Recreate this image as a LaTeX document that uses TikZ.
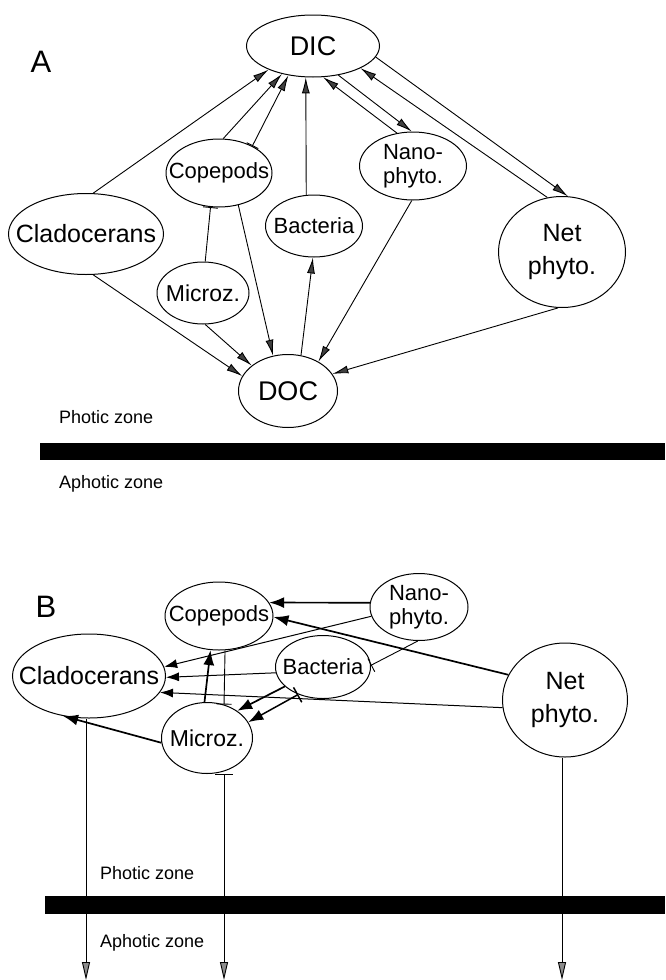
\documentclass[tikz,border=0pt]{standalone}
\usepackage{fontspec}
\setmainfont{Liberation Sans}
\usetikzlibrary{arrows.meta,shapes.geometric}

\def\poolFont{\fontsize{27}{29}\selectfont}
\def\bigFont{\fontsize{25}{33}\selectfont}
\def\midFont{\fontsize{23}{25}\selectfont}
\def\smallFont{\fontsize{22}{24}\selectfont}
\def\zoneFont{\fontsize{18}{20}\selectfont}
\def\panelFont{\fontsize{31}{33}\selectfont}

\tikzset{
  pool/.style={draw, ellipse, inner sep=0pt, line width=1pt},
  zone/.style={anchor=west, inner sep=0pt, font=\zoneFont},
  flow/.style={-{Latex[length=16pt,width=8pt,fill=black!75]}, line width=0.9pt},
  barflow/.style={{Bar[width=13pt]}-{Latex[length=16pt,width=8pt,fill=black!75]}, line width=0.9pt},
  stop/.style={-{Bar[width=15pt]}, line width=0.9pt},
  feed/.style={-{Latex[length=15pt,width=11pt]}, line width=1.7pt},
  barfeed/.style={{Bar[width=17pt]}-{Latex[length=15pt,width=11pt]}, line width=1.5pt},
  weak/.style={-{Latex[length=13pt,width=9pt]}, line width=1pt},
  sink/.style={-{Triangle[length=18pt,width=8pt,fill=black!45]}, line width=0.9pt},
  barsink/.style={{Bar[width=18pt]}-{Triangle[length=18pt,width=8pt,fill=black!45]}, line width=0.9pt}
}

\begin{document}
\begin{tikzpicture}[x=1pt,y=-1pt]
\useasboundingbox (0,0) rectangle (665,980);

%%% panel A
\node[font=\panelFont] (labA) at (41,62) {A};

\node[pool, minimum width=133pt, minimum height=62pt, font=\poolFont] (dicA) at (313,46) {DIC};
\node[pool, minimum width=106pt, minimum height=68pt, font=\smallFont] (copA) at (219,173) {\makebox[0pt]{Copepods}};
\node[pool, minimum width=155pt, minimum height=81pt, font=\bigFont] (claA) at (86,234) {\makebox[0pt]{Cladocerans}};
\node[pool, minimum width=97pt, minimum height=62pt, font=\smallFont] (bacA) at (314,226) {\makebox[0pt]{Bacteria}};
\node[pool, minimum width=107pt, minimum height=68pt, font=\smallFont, align=center] (nanA) at (413,166) {Nano-\\phyto.};
\node[pool, minimum width=127pt, minimum height=111pt, font=\bigFont, align=center] (netA) at (562,252) {Net\\phyto.};
\node[pool, minimum width=92pt, minimum height=62pt, font=\midFont] (micA) at (203,293) {\makebox[0pt]{Microz.}};
\node[pool, minimum width=99pt, minimum height=73pt, font=\poolFont] (docA) at (288,391) {DOC};

% draw the fluxes to and from DIC
\draw[flow] (claA.80) -- (dicA.208);
\draw[flow] (copA.83) -- (dicA.222);
\draw[barflow] (copA.39) -- (dicA.230);
\draw[flow] (bacA.104) -- (dicA.257);
\draw[flow] (nanA.116) -- (dicA.288);
\draw[flow] (dicA.311) -- (nanA.92);
\draw[flow] (netA.105) -- (dicA.335);
\draw[flow] (dicA.350) -- (netA.84);
\draw[stop] (micA.86) -- (copA.256);

% draw the fluxes to and from DOC
\draw[flow] (copA.301) -- (docA.113);
\draw[flow] (claA.280) -- (docA.162);
\draw[flow] (micA.274) -- (docA.145);
\draw[flow] (docA.70) -- (bacA.268);
\draw[flow] (nanA.268) -- (docA.44);
\draw[flow] (netA.266) -- (docA.21);

\fill (40,443) rectangle (665,460);
\foreach \yy/\txt [count=\ni] in {417/Photic zone, 484/Aphotic zone}
  \node[zone] (zoneA\ni) at (59,\yy) {\txt};

%%% panel B
\node[font=\panelFont] (labB) at (46,607) {B};

\node[pool, minimum width=108pt, minimum height=68pt, font=\smallFont] (copB) at (219,616) {\makebox[0pt]{Copepods}};
\node[pool, minimum width=98pt, minimum height=67pt, font=\smallFont, align=center] (nanB) at (419,607) {Nano-\\phyto.};
\node[pool, minimum width=153pt, minimum height=84pt, font=\bigFont] (claB) at (89,676) {\makebox[0pt]{Cladocerans}};
\node[pool, minimum width=95pt, minimum height=63pt, font=\smallFont] (bacB) at (323,667) {\makebox[0pt]{Bacteria}};
\node[pool, minimum width=125pt, minimum height=114pt, font=\bigFont, align=center] (netB) at (565,700) {Net\\phyto.};
\node[pool, minimum width=91pt, minimum height=71pt, font=\midFont] (micB) at (207,738) {\makebox[0pt]{Microz.}};

% grazing links
\draw[feed] (nanB.175) -- (copB.15);
\draw[feed] (netB.156) -- (copB.359);
\draw[weak] (nanB.191) -- (claB.7);
\draw[weak] (bacB.187) -- (claB.359);
\draw[weak] (netB.187) -- (claB.347);
\draw[feed] (micB.186) -- (claB.237);
\draw[feed] (micB.94) -- (copB.256);
\draw[stop] (copB.280) -- (micB.63);
\draw[feed] (bacB.207) -- (micB.42);
\draw[barfeed] (bacB.228) -- (micB.21);
\draw[stop] (nanB.268) -- (bacB.2);

% sinking to the aphotic zone
\foreach \xx/\nn in {86/claB, 562/netB}
{
  \coordinate (sink\nn) at (\xx,980);
  \draw[sink] (\nn.south -| sink\nn) -- (sink\nn);
}
\coordinate (sinkmicB) at (224,980);
\draw[barsink] (micB.south -| sinkmicB) -- (sinkmicB);

\fill (45,896) rectangle (665,914);
\foreach \yy/\txt [count=\ni] in {873/Photic zone, 943/Aphotic zone}
  \node[zone] (zoneB\ni) at (100,\yy) {\txt};

\end{tikzpicture}
\end{document}
